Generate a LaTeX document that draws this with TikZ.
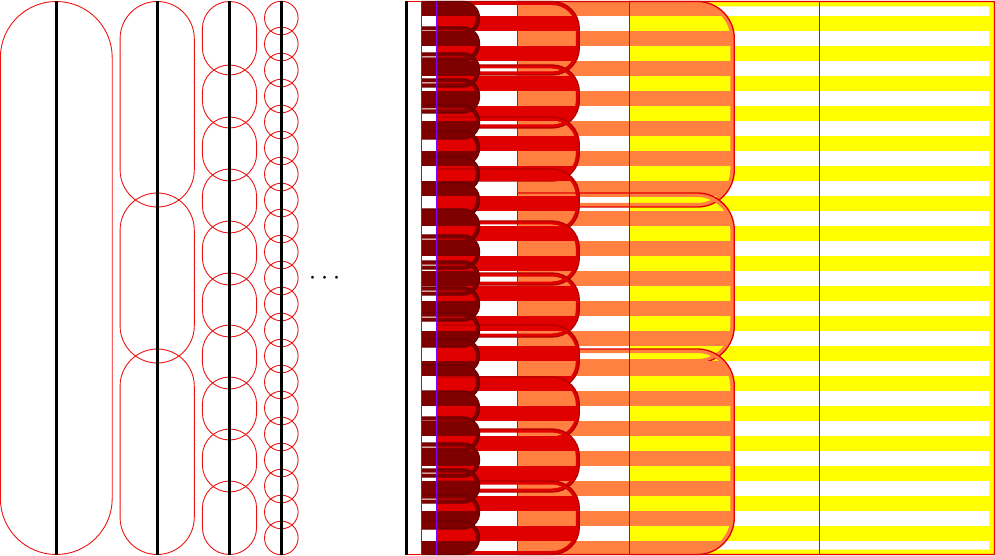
\documentclass[tikz,border=0pt]{standalone}
\definecolor{dred}{RGB}{128,0,0}
\definecolor{dredb}{RGB}{108,0,0}
\definecolor{rred}{RGB}{224,0,0}
\definecolor{rredb}{RGB}{180,0,0}
\definecolor{orng}{RGB}{255,128,64}
\definecolor{orngb}{RGB}{224,0,0}
\definecolor{yell}{RGB}{255,255,0}
\definecolor{yellb}{RGB}{235,0,0}
\definecolor{purp}{RGB}{128,0,255}
\definecolor{lred}{RGB}{235,20,20}
\tikzset{
  lsty/.style={draw=lred, line width=0.9},
  axisline/.style={black, line width=2.8},
  sepline/.style={purp, line width=1},
}
% right-rounded stadium: s, e, r, a, b  (image coordinates, y downward)
\newcommand\rstad[5]{(#1,{554-#4}) -- ({#2-#3},{554-#4}) arc[start angle=90,end angle=0,radius=#3] -- (#2,{554-#5+#3}) arc[start angle=0,end angle=-90,radius=#3] -- (#1,{554-#5})}
% one striped stadium: s e r a b fill border phase band
\newcommand\levelstad[9]{%
  \begin{scope}
    \clip \rstad{#1}{#2}{#3}{#4}{#5} -- cycle;
    \foreach \j in {0,...,18}{\fill[#6] (#1,{554-(#8+30*\j)}) rectangle (#2+2,{554-(#8+30*\j+15)});}
    \draw[#6,line width=#9] \rstad{#1}{#2}{#3}{#4}{#5};
  \end{scope}
  \draw[#7,line width=1.3] \rstad{#1}{#2}{#3}{#4}{#5};
}
% vertical stadium: cx r a b
\newcommand\vstad[4]{%
  \draw[lsty] ({#1-#2},{554-#3-#2}) arc[start angle=180,end angle=0,radius=#2] -- ({#1+#2},{554-#4+#2}) arc[start angle=0,end angle=-180,radius=#2] -- cycle;}
\begin{document}
\begin{tikzpicture}[x=1pt,y=1pt]
\useasboundingbox (0,0) rectangle (995,555);
% ---------- left: columns ----------
\vstad{56.3}{55.9}{0.5}{553.5}
\foreach \a/\b in {0.5/206,192/362,348/553.5}{\vstad{157.2}{37.1}{\a}{\b}}
\foreach \a/\b in {0.5/74,64/127,116/180,168/232,220/284,272/336,324/388,376/439,428/491,480/553.5}{\vstad{229.5}{27.1}{\a}{\b}}
\foreach \i in {0,...,20}{\draw[lsty] (281.3,{554-(17+26*\i)}) circle[radius=16.8];}
\foreach \cx in {56.3,157.3,229.4,281.4}{\draw[axisline] (\cx,554) -- (\cx,0);}
\node[anchor=base, inner sep=0pt, scale=2.7] (dots) at (324.7,{554-283.5}) {$\cdots$};
% ---------- right: levels ----------
\draw[yellb, line width=1] (406,553.5) -- (994.5,553.5) -- (994.5,0.5) -- (406,0.5);
\levelstad{629}{994.4}{0.5}{0.5}{553.5}{yell}{yellb}{15}{10}
\foreach \a/\b in {0.5/206,192/362,348/553.5}{\levelstad{517}{734.3}{37}{\a}{\b}{orng}{orngb}{0}{8}}
\foreach \a/\b in {0.5/74,64/127,116/180,168/232,220/284,272/336,324/388,376/439,428/491,480/553.5}{\levelstad{436}{579.3}{27}{\a}{\b}{rred}{rredb}{15}{7}}
\foreach \i in {0,...,20}{%
  \pgfmathsetmacro\a{max(26*\i,0.5)}%
  \pgfmathsetmacro\b{min(26*\i+34,553.5)}%
  \levelstad{421}{479.5}{16.5}{\a}{\b}{dred}{dredb}{0}{7}}
\foreach \x in {421,436,517,629,819}{\draw[sepline] (\x,554) -- (\x,0);}
\draw[black, line width=3] (406.5,554) -- (406.5,0);
\end{tikzpicture}
\end{document}
